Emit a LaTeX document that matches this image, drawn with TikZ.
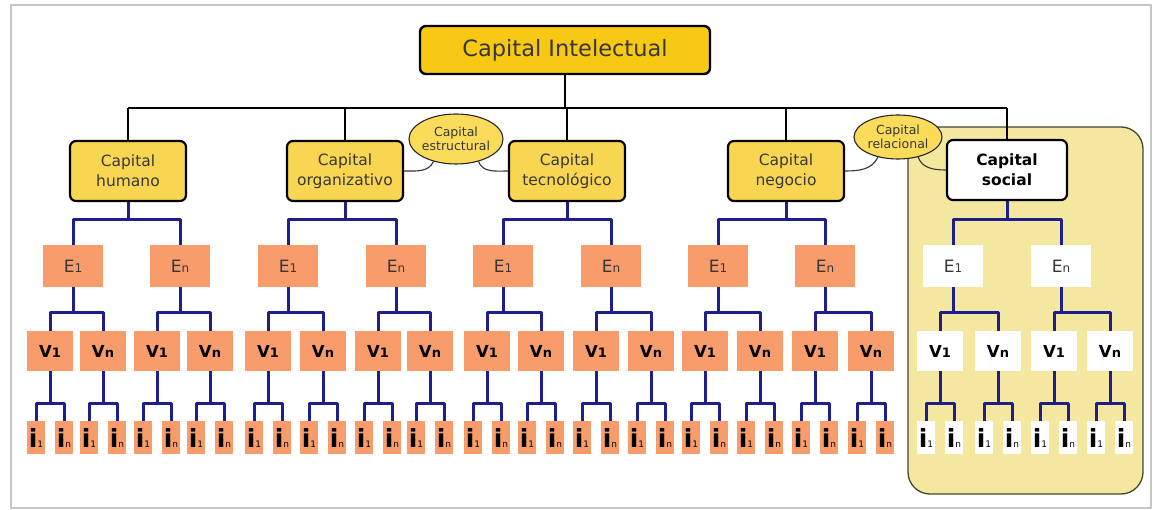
\documentclass[tikz,border=0pt]{standalone}
\usepackage{fontspec}
\setmainfont{DejaVu Sans}
\usetikzlibrary{shapes.geometric}

\definecolor{gold}{RGB}{247,200,20}
\definecolor{capyellow}{RGB}{249,214,82}
\definecolor{ellyellow}{RGB}{250,220,90}
\definecolor{salmon}{RGB}{248,156,108}
\definecolor{navy}{RGB}{30,30,140}
\definecolor{panel}{RGB}{244,232,160}
\definecolor{panelline}{RGB}{70,70,50}
\definecolor{textgray}{RGB}{55,55,55}

% labels of the lower levels
\newcommand\elab[1]{{\fontsize{17}{17}\selectfont E}{\fontsize{12}{12}\selectfont #1}}
\newcommand\vlab[1]{{\bfseries\fontsize{16.5}{16}\selectfont V}{\bfseries\fontsize{13}{13}\selectfont #1}}
\newcommand\ilab[1]{{\bfseries\fontsize{25}{25}\selectfont i}{\fontsize{9}{9}\selectfont #1}}

\begin{document}
\begin{tikzpicture}[x=1pt,y=-1pt,
  topbox/.style={draw=black,line width=2.4pt,rounded corners=6pt,fill=gold,
    minimum width=290pt,minimum height=48pt,inner sep=0pt,
    font=\fontsize{22.5}{24}\selectfont,text=textgray},
  capbox/.style={draw=black,line width=2.2pt,rounded corners=6pt,fill=capyellow,
    minimum width=116pt,minimum height=60pt,inner sep=0pt,align=center,
    font=\fontsize{15.5}{20}\selectfont,text=textgray},
  socbox/.style={capbox,fill=white,font=\bfseries\fontsize{15.5}{20}\selectfont,text=black,
    minimum width=120pt},
  bubble/.style={ellipse,draw=black!85,line width=1.1pt,fill=ellyellow,inner sep=0pt},
  bubbletext/.style={align=center,inner sep=0pt,font=\fontsize{12.5}{13.5}\selectfont,text=textgray},
  ebox/.style={fill=#1,minimum width=60pt,minimum height=42pt,inner sep=0pt,text=textgray},
  vbox/.style={fill=#1,minimum width=46pt,minimum height=40pt,inner sep=0pt,text=black},
  ibox/.style={fill=#1,minimum width=18pt,minimum height=33pt,inner sep=0pt,text=black},
  blackline/.style={draw=black,line width=2.7pt},
  blueline/.style={draw=navy,line width=3pt,line join=round},
  thinlink/.style={draw=black!80,line width=1.1pt},
]
\useasboundingbox (0,0) rectangle (1160,510);

% page frame
\draw[black!22,line width=1.2pt] (11,5) rectangle (1151,508);

% highlighted panel around the social capital
\draw[panelline,line width=1.3pt,fill=panel,rounded corners=22pt]
  (908,127) rectangle (1143,494);

% root and the five capitals
\node[topbox] (top) at (565,50) {Capital Intelectual};
\node[capbox] (k1) at (128,171) {Capital\\humano};
\node[capbox] (k2) at (345,171) {Capital\\organizativo};
\node[capbox] (k3) at (567,171) {Capital\\tecnológico};
\node[capbox] (k4) at (786,171) {Capital\\negocio};
\node[socbox] (k5) at (1007,170) {Capital\\social};

% grouping bubbles
\node[bubble,minimum width=94pt,minimum height=50pt] (est) at (456,139) {};
\node[bubbletext] (estt) at (est.center) {Capital\\estructural};
\node[bubble,minimum width=88pt,minimum height=44pt] (rel) at (898,137) {};
\node[bubbletext] (relt) at (rel.center) {Capital\\relacional};
\draw[thinlink] (k2.east) to[out=0,in=-115] (est.225);
\draw[thinlink] (est.-45) to[out=-70,in=180] (k3.west);
\draw[thinlink] (k4.east) to[out=0,in=-115] (rel.225);
\draw[thinlink] (rel.-45) to[out=-70,in=180] (k5.west);

% root connectors
\draw[blackline] (top.south) -- (top.south |- 0,108);
\draw[blackline] (k1.north |- 0,108) -- (k5.north |- 0,108);
\foreach \k in {1,...,5}
  \draw[blackline] (k\k.north) -- (k\k.north |- 0,108);

% subtree of each capital: two E, four V, eight i
\foreach \k/\Ea/\Eb/\Va/\Vb/\Vc/\Vd/\col in {
    1/73/180/50/103/157/210/salmon,
    2/288/396/268/323/378/430/salmon,
    3/503/611/487/541/596/651/salmon,
    4/718/825/705/760/815/871/salmon,
    5/953/1061/940/998/1054/1110/white}{
  \node[ebox=\col] (e\k-1) at (\Ea,266) {\elab{1}};
  \node[ebox=\col] (e\k-2) at (\Eb,266) {\elab{n}};
  \node[vbox=\col] (v\k-1) at (\Va,351) {\vlab{1}};
  \node[vbox=\col] (v\k-2) at (\Vb,351) {\vlab{n}};
  \node[vbox=\col] (v\k-3) at (\Vc,351) {\vlab{1}};
  \node[vbox=\col] (v\k-4) at (\Vd,351) {\vlab{n}};
  \foreach \j/\x in {1/\Va,2/\Vb,3/\Vc,4/\Vd}{
    \pgfmathtruncatemacro\ia{2*\j-1}
    \pgfmathtruncatemacro\ib{2*\j}
    \node[ibox=\col] (i\k-\ia) at (\x-14,438) {\ilab{1}};
    \node[ibox=\col] (i\k-\ib) at (\x+14,438) {\ilab{n}};
    \draw[blueline] (v\k-\j.south) -- (v\k-\j.south |- 0,404);
    \draw[blueline] (i\k-\ia.north) -- (i\k-\ia.north |- 0,404)
      -- (i\k-\ib.north |- 0,404) -- (i\k-\ib.north);
  }
  % capital to E
  \draw[blueline] (k\k.south) -- (k\k.south |- 0,220);
  \draw[blueline] (e\k-1.north) -- (e\k-1.north |- 0,220)
    -- (e\k-2.north |- 0,220) -- (e\k-2.north);
  % E to V
  \draw[blueline] (e\k-1.south) -- (e\k-1.south |- 0,313);
  \draw[blueline] (v\k-1.north) -- (v\k-1.north |- 0,313)
    -- (v\k-2.north |- 0,313) -- (v\k-2.north);
  \draw[blueline] (e\k-2.south) -- (e\k-2.south |- 0,313);
  \draw[blueline] (v\k-3.north) -- (v\k-3.north |- 0,313)
    -- (v\k-4.north |- 0,313) -- (v\k-4.north);
}
\end{tikzpicture}
\end{document}
